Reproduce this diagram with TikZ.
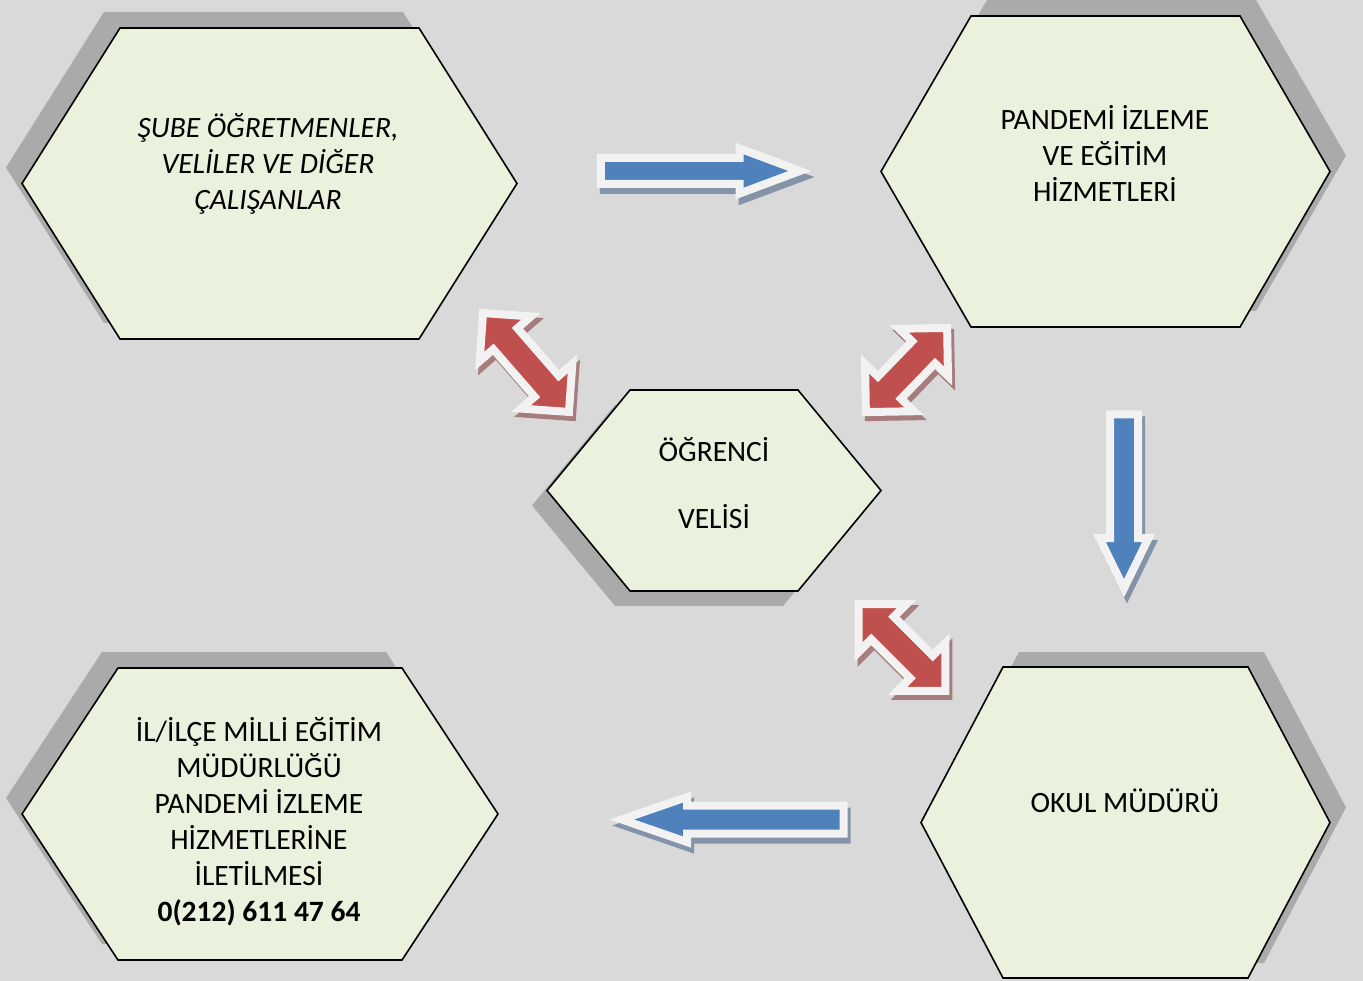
\documentclass[tikz,border=0pt]{standalone}
\usepackage{fontspec}
\setmainfont{Carlito}
\usepackage{tikz}
\usetikzlibrary{positioning, shapes.arrows}

\definecolor{backgray}{HTML}{D9D9D9}
\definecolor{hexfill}{HTML}{EAF1DD}
\definecolor{hexshade}{HTML}{AAAAAA}
\definecolor{arrowwhite}{HTML}{F2F2F2}
\definecolor{arrowblue}{HTML}{4F81BD}
\definecolor{arrowred}{HTML}{C0504D}
\definecolor{blueshade}{HTML}{8593A8}
\definecolor{redshade}{HTML}{A67C7C}

\tikzset{
  hex/.style={fill=hexfill, draw=black, line width=1.6pt},
  hex shadow/.style={fill=hexshade},
  hex text/.style={align=center, font=\fontsize{29.5}{36}\selectfont},
  flow arrow/.style={single arrow, fill=arrowblue, draw=arrowwhite, line width=8pt, inner sep=0pt,
    preaction={fill=blueshade, draw=blueshade, line width=8pt, transform canvas={shift={(3,6)}}}},
  link arrow/.style={double arrow, fill=arrowred, draw=arrowwhite, line width=8pt, inner sep=0pt,
    inner ysep=12pt, double arrow head extend=18pt, double arrow tip angle=90,
    preaction={fill=redshade, draw=redshade, line width=8pt, transform canvas={shift={(3,5)}}}}
}

\begin{document}
\begin{tikzpicture}[x=1pt, y=-1pt]

\useasboundingbox (0,0) rectangle (1363,981);
\fill[backgray] (0,0) rectangle (1363,981);

\foreach \xl/\xr/\yt/\yb/\cut/\dx/\dy in {
    22/517/28/339/98/-16/-16,
    881/1330/16/327/90/16/-16,
    547/881/390/591/83/-15/15,
    22/498/668/960/96/-16/-16,
    921/1330/667/978/82/16/-15}
{
  \fill[hex shadow, shift={(\dx,\dy)}] ({\xl+\cut},\yt) -- ({\xr-\cut},\yt) -- (\xr,{(\yt+\yb)/2})
    -- ({\xr-\cut},\yb) -- ({\xl+\cut},\yb) -- (\xl,{(\yt+\yb)/2}) -- cycle;
  \draw[hex] ({\xl+\cut},\yt) -- ({\xr-\cut},\yt) -- (\xr,{(\yt+\yb)/2})
    -- ({\xr-\cut},\yb) -- ({\xl+\cut},\yb) -- (\xl,{(\yt+\yb)/2}) -- cycle;
}

\node[hex text, font=\fontsize{29.5}{36}\selectfont\itshape] (sube) at (268,164)
  {ŞUBE ÖĞRETMENLER,\\VELİLER VE DİĞER\\ÇALIŞANLAR};
\node[hex text] (pandemi) at (1105,153) {PANDEMİ İZLEME\\VE EĞİTİM\\HİZMETLERİ};
\node[hex text, font=\fontsize{29.5}{33.5}\selectfont] (veli) at (714,483.5) {ÖĞRENCİ\\[33.5pt]VELİSİ};
\node[hex text] (ilce) at (259,822)
  {İL/İLÇE MİLLİ EĞİTİM\\MÜDÜRLÜĞÜ\\PANDEMİ İZLEME\\HİZMETLERİNE\\İLETİLMESİ\\\textbf{0(212) 611 47 64}};
\node[hex text] (okul) at (1125,801) {OKUL MÜDÜRÜ};

\node[flow arrow, minimum height=199, inner ysep=9pt, single arrow head extend=9.5pt,
  single arrow tip angle=41] (flow-1) at (683,171) {};
\node[flow arrow, rotate=-90, minimum height=174, inner ysep=10pt, single arrow head extend=10.5pt,
  single arrow tip angle=52] (flow-2) at (1124,487) {};
\node[flow arrow, rotate=180, minimum height=222, inner ysep=10pt, single arrow head extend=8.5pt,
  single arrow tip angle=38] (flow-3) at (753,819.5) {};

\foreach \x/\y/\a/\l [count=\i] in {526/362.5/-49/131, 906.5/370/46/117, 902/647.5/-45/123}
  \node[link arrow, rotate=\a, minimum height=\l] (link-\i) at (\x,\y) {};

\end{tikzpicture}
\end{document}
